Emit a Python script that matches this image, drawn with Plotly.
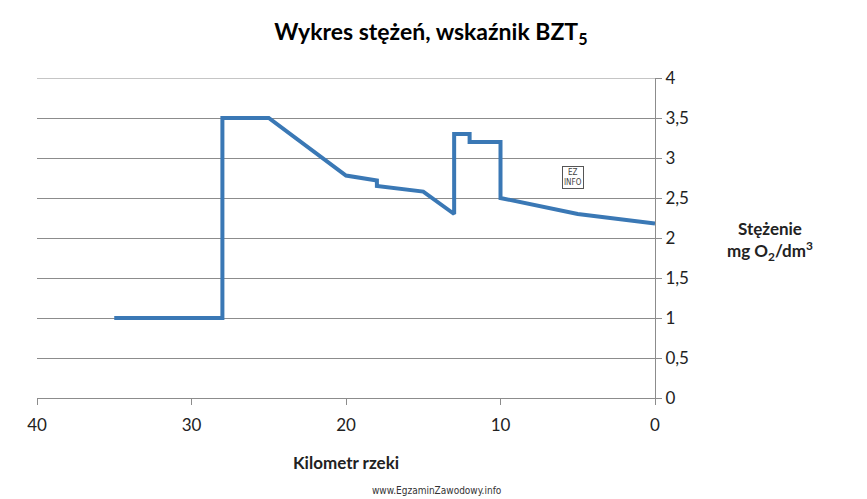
import plotly.graph_objects as go

# kilometr rzeki i stężenie BZT5 (mg O2/dm3)
km = [35, 28, 28, 25, 20, 18, 18, 15, 13, 13, 12, 12, 10, 10, 5, 0]
bzt5 = [1.0, 1.0, 3.5, 3.5, 2.78, 2.72, 2.65, 2.58, 2.3, 3.3, 3.3, 3.2, 3.2, 2.5, 2.3, 2.18]

y_ticks = [0, 0.5, 1, 1.5, 2, 2.5, 3, 3.5, 4]
x_ticks = [40, 30, 20, 10, 0]

font_name = "Lato"
grey = "#8c8c8c"

fig = go.Figure()
fig.add_trace(go.Scatter(x=km, y=bzt5, mode="lines",
                         line={'color': "#3a78b5", 'width': 4},
                         showlegend=False))

# linia siatki na samej górze osi (plotly jej nie rysuje na krawędzi)
fig.add_shape(type="line", xref="paper", yref="y", x0=0, x1=1,
              y0=y_ticks[-1], y1=y_ticks[-1], line={'color': grey, 'width': 1})

fig.update_layout(
    width=867,
    height=499,
    paper_bgcolor="white",
    plot_bgcolor="white",
    separators=", ",
    margin={'l': 37, 'r': 212, 't': 78, 'b': 101},
    font={'family': font_name, 'size': 16, 'color': "#222222"},
    title={
        'text': "<b>Wykres stężeń, wskaźnik BZT<sub>5</sub></b>",
        'x': 0.497, 'xanchor': "center",
        'y': 0.935, 'yanchor': "middle",
        'font': {'size': 23, 'color': "black", 'family': font_name},
    },
    xaxis={
        'range': [40, 0],
        'tickvals': x_ticks,
        'ticks': "outside",
        'ticklen': 6,
        'tickcolor': grey,
        'ticklabelstandoff': 6,
        'showline': True,
        'linecolor': grey,
        'showgrid': False,
        'zeroline': False,
        'tickfont': {'size': 17},
        'title': {'text': "<b>Kilometr rzeki</b>", 'font': {'size': 17}, 'standoff': 22},
    },
    yaxis={
        'side': "right",
        'range': [0, 4],
        'tickvals': y_ticks,
        'tickformat': ".1~f",
        'ticks': "outside",
        'ticklen': 6,
        'tickcolor': grey,
        'showline': True,
        'linecolor': grey,
        'showgrid': True,
        'gridcolor': grey,
        'gridwidth': 1,
        'zeroline': False,
        'tickfont': {'size': 17},
    },
    annotations=[
        {'text': "<b>Stężenie<br>mg O<sub>2</sub>/dm<sup>3</sup></b>",
         'xref': "paper", 'yref': "paper", 'x': 1.186, 'y': 0.49,
         'xanchor': "center", 'yanchor': "middle", 'showarrow': False,
         'font': {'size': 17, 'color': "#222222"}},
        {'text': "EZ<br>INFO",
         'xref': "paper", 'yref': "paper", 'x': 0.867, 'y': 0.69,
         'xanchor': "center", 'yanchor': "middle", 'showarrow': False,
         'bordercolor': "#555555", 'borderwidth': 1, 'borderpad': 1,
         'font': {'size': 8, 'color': "#444444", 'family': "DejaVu Sans Condensed"}},
        {'text': "www.EgzaminZawodowy.info",
         'xref': "paper", 'yref': "paper", 'x': 0.647, 'y': -0.288,
         'xanchor': "center", 'yanchor': "middle", 'showarrow': False,
         'font': {'size': 10, 'color': "#333333", 'family': "DejaVu Sans Condensed"}},
    ],
)

fig.write_html("out.html", config={'displayModeBar': False},
               post_script="document.body.style.margin = '0';")
